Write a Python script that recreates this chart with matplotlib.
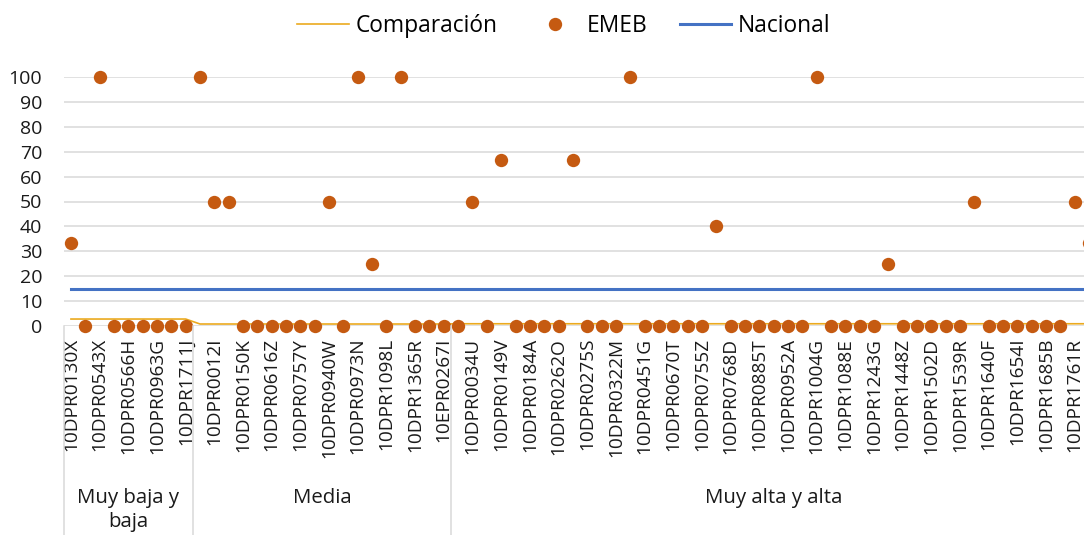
import matplotlib.pyplot as plt
from matplotlib.lines import Line2D
from matplotlib.transforms import blended_transform_factory

plt.rcParams['font.family'] = ['Open Sans', 'DejaVu Sans']

# groups of schools (marginality level) and how many schools each holds
grupos = ['Muy baja y\nbaja', 'Media', 'Muy alta y alta']
tam_grupos = [9, 18, 45]

# only every second school code is printed on the axis
etiquetas = ['10DPR0130X', '10DPR0543X', '10DPR0566H', '10DPR0963G', '10DPR1711J',
             '10DPR0012I', '10DPR0150K', '10DPR0616Z', '10DPR0757Y', '10DPR0940W',
             '10DPR0973N', '10DPR1098L', '10DPR1365R', '10EPR0267I',
             '10DPR0034U', '10DPR0149V', '10DPR0184A', '10DPR0262O', '10DPR0275S',
             '10DPR0322M', '10DPR0451G', '10DPR0670T', '10DPR0755Z', '10DPR0768D',
             '10DPR0885T', '10DPR0952A', '10DPR1004G', '10DPR1088E', '10DPR1243G',
             '10DPR1448Z', '10DPR1502D', '10DPR1539R', '10DPR1640F', '10DPR1654I',
             '10DPR1685B', '10DPR1761R']

emeb = [33.3, 0, 100, 0, 0, 0, 0, 0, 0,
        100, 50, 50, 0, 0, 0, 0, 0, 0, 50, 0, 100, 25, 0, 100, 0, 0, 0,
        0, 50, 0, 66.7, 0, 0, 0, 0, 66.7, 0, 0, 0, 100, 0, 0, 0, 0, 0,
        40, 0, 0, 0, 0, 0, 0, 100, 0, 0, 0, 0, 25, 0, 0, 0, 0, 0,
        50, 0, 0, 0, 0, 0, 0, 50, 33.3]

comparacion_grupo = [2.8, 0.8, 0.9]
nacional = 15

n = len(emeb)
x = list(range(n))
comparacion = []
for v, t in zip(comparacion_grupo, tam_grupos):
    comparacion += [v] * t

fig = plt.figure(figsize=(10.84, 5.35), dpi=100)
W, H = 1084, 535
left_px, right_px = 63.8, 1096.3
top_px, bottom_px = 77, 326
ax = fig.add_axes([left_px / W, 1 - bottom_px / H,
                   (right_px - left_px) / W, (bottom_px - top_px) / H])

ax.plot(x, comparacion, color='#EBAA1F', lw=1.2, label='Comparación', zorder=3)
ax.plot(x, emeb, 'o', color='#C55A11', ms=9.6, mec='none', label='EMEB',
        clip_on=False, zorder=4)
ax.plot([x[0], x[-1] + 0.5], [nacional, nacional], color='#4472C4', lw=2.2,
        label='Nacional', zorder=2)

ax.set_xlim(-0.5, n - 0.5)
ax.set_ylim(0, 100)
ax.set_yticks(range(0, 101, 10))
ax.grid(axis='y', color='#D9D9D9', lw=1.1)
ax.set_axisbelow(True)
for s in ax.spines.values():
    s.set_visible(False)
ax.tick_params(axis='y', length=0, pad=15.5, labelsize=14, labelcolor='#1a1a1a')
ax.set_xticks(range(0, n, 2))
ax.set_xticklabels(etiquetas, rotation=90, fontsize=13.7, color='#1a1a1a')
ax.tick_params(axis='x', length=0, pad=8.5)

# group separators and group names below the codes
tr = blended_transform_factory(ax.transData, fig.transFigure)
start = 0
for g, t in zip(grupos, tam_grupos):
    b = start - 0.5
    fig.add_artist(Line2D([b, b], [0, 1 - bottom_px / H], transform=tr,
                          color='#D9D9D9', lw=1.1))
    ax.text(start + (t - 1) / 2, 1 - 488 / H, g, transform=tr, ha='center',
            va='top', fontsize=14.7, color='#1a1a1a', linespacing=1.3)
    start += t

fig.legend(loc='upper center', bbox_to_anchor=(0.52, 1.012), ncol=3, frameon=False,
           fontsize=16.4, handlelength=2.28, columnspacing=1.4, handletextpad=0.26)

fig.savefig('out.png', dpi=100)
